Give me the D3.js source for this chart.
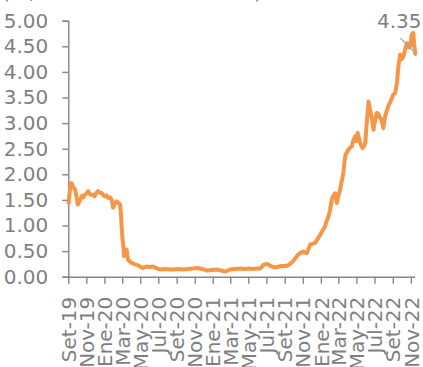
<!DOCTYPE html>
<html>
<head>
<meta charset="utf-8">
<script src="https://cdn.jsdelivr.net/npm/d3@7"></script>
<style>
  html, body { margin: 0; padding: 0; background: #fff; }
  svg { display: block; font-family: "DejaVu Sans", Verdana, sans-serif; }
</style>
</head>
<body>
<svg id="chart" width="423" height="367"></svg>
<script>
// Yield series (%), observation dates and values
const dates = [
  "2019-09-02","2019-09-05","2019-09-08","2019-09-12","2019-09-17","2019-09-24","2019-09-29",
  "2019-10-03","2019-10-07","2019-10-11","2019-10-17","2019-10-22","2019-10-27","2019-11-02",
  "2019-11-07","2019-11-12","2019-11-17","2019-11-23","2019-11-29","2019-12-04","2019-12-10",
  "2019-12-17","2019-12-23","2019-12-27","2020-01-03","2020-01-08","2020-01-13","2020-01-20",
  "2020-01-26","2020-01-30","2020-02-06","2020-02-11","2020-02-16","2020-02-23","2020-02-26",
  "2020-02-28","2020-03-02","2020-03-05","2020-03-07","2020-03-11","2020-03-16","2020-03-21",
  "2020-03-26","2020-04-02","2020-04-10","2020-04-19","2020-04-24","2020-04-30","2020-05-10",
  "2020-05-17","2020-05-27","2020-06-03","2020-06-13","2020-06-23","2020-07-07","2020-07-24",
  "2020-08-10","2020-08-20","2020-09-06","2020-09-23","2020-10-09","2020-10-26","2020-11-12",
  "2020-11-26","2020-12-13","2020-12-30","2021-01-15","2021-01-29","2021-02-12","2021-02-28",
  "2021-03-17","2021-04-03","2021-04-20","2021-05-04","2021-05-17","2021-05-31","2021-06-10",
  "2021-06-17","2021-06-20","2021-07-02","2021-07-10","2021-07-19","2021-07-27","2021-08-05",
  "2021-08-13","2021-08-22","2021-09-02","2021-09-12","2021-09-19","2021-09-29","2021-10-08",
  "2021-10-16","2021-10-23","2021-11-02","2021-11-09","2021-11-15","2021-11-21","2021-11-26",
  "2021-12-02","2021-12-13","2021-12-19","2021-12-30","2022-01-07","2022-01-15","2022-01-20",
  "2022-01-27","2022-02-01","2022-02-07","2022-02-11","2022-02-18","2022-02-24","2022-02-28",
  "2022-03-07","2022-03-12","2022-03-18","2022-03-24","2022-03-29","2022-04-04","2022-04-10",
  "2022-04-16","2022-04-20","2022-04-27","2022-04-30","2022-05-05","2022-05-10","2022-05-14",
  "2022-05-22","2022-05-27","2022-05-31","2022-06-05","2022-06-11","2022-06-16","2022-06-22",
  "2022-06-28","2022-07-03","2022-07-09","2022-07-14","2022-07-20","2022-07-26","2022-07-31",
  "2022-08-06","2022-08-12","2022-08-18","2022-08-23","2022-08-29","2022-09-02","2022-09-09",
  "2022-09-15","2022-09-20","2022-09-26","2022-10-01","2022-10-07","2022-10-13","2022-10-19",
  "2022-10-25","2022-10-30","2022-11-04","2022-11-09","2022-11-12","2022-11-16"
];
const yields = [
  1.44,1.62,1.78,1.83,1.76,1.70,1.55,
  1.41,1.45,1.50,1.58,1.55,1.60,1.63,
  1.67,1.62,1.60,1.60,1.57,1.63,1.67,
  1.64,1.63,1.60,1.57,1.59,1.54,1.55,
  1.50,1.35,1.44,1.47,1.45,1.41,1.20,
  0.98,0.75,0.59,0.40,0.45,0.53,0.33,
  0.30,0.27,0.25,0.23,0.22,0.20,0.17,
  0.19,0.20,0.19,0.20,0.17,0.14,0.15,
  0.14,0.14,0.15,0.14,0.15,0.16,0.17,
  0.15,0.12,0.13,0.14,0.12,0.10,0.14,
  0.15,0.16,0.15,0.16,0.15,0.16,0.16,
  0.20,0.23,0.25,0.23,0.20,0.19,0.18,
  0.20,0.21,0.21,0.22,0.25,0.30,0.37,
  0.43,0.46,0.49,0.47,0.46,0.55,0.63,
  0.64,0.66,0.72,0.82,0.90,0.98,1.08,
  1.18,1.30,1.50,1.57,1.63,1.44,1.55,
  1.70,1.85,2.03,2.35,2.42,2.48,2.52,
  2.55,2.65,2.74,2.65,2.81,2.70,2.61,
  2.51,2.55,2.61,3.00,3.42,3.26,3.10,
  2.87,3.05,3.20,3.18,3.10,3.05,2.90,
  3.13,3.25,3.35,3.40,3.49,3.55,3.59,
  3.78,4.11,4.34,4.25,4.30,4.45,4.56,
  4.48,4.50,4.73,4.76,4.55,4.35
];
const yTicks = [0, 0.5, 1, 1.5, 2, 2.5, 3, 3.5, 4, 4.5, 5];
const xTickDates = [
  "2019-09-01","2019-11-01","2020-01-01","2020-03-01","2020-05-01","2020-07-01","2020-09-01",
  "2020-11-01","2021-01-01","2021-03-01","2021-05-01","2021-07-01","2021-09-01","2021-11-01",
  "2022-01-01","2022-03-01","2022-05-01","2022-07-01","2022-09-01","2022-11-01"
];
const xTickLabels = [
  "Set-19","Nov-19","Ene-20","Mar-20","May-20","Jul-20","Set-20","Nov-20","Ene-21","Mar-21",
  "May-21","Jul-21","Set-21","Nov-21","Ene-22","Mar-22","May-22","Jul-22","Set-22","Nov-22"
];
const titleText = "(%, rendimiento a 2 años)";

const parse = d3.utcParse("%Y-%m-%d");
const data = dates.map((d, i) => ({ date: parse(d), value: yields[i] }));
const tickDates = xTickDates.map(parse);

const svg = d3.select("#chart");
const axisColor = "#868686";
const textColor = "#7f7f7f";

const x = d3.scaleUtc()
  .domain([parse("2019-09-01"), parse("2022-11-14")])
  .range([68.3, 414.7]);
const y = d3.scaleLinear().domain([0, 5]).range([276.7, 20.7]);

// Title (runs above the plot area)
svg.append("text")
  .attr("x", 2).attr("y", -1)
  .attr("font-size", 20).attr("fill", textColor)
  .text(titleText);

// Y axis
const yAxis = svg.append("g")
  .attr("transform", `translate(${x.range()[0]},0)`)
  .call(d3.axisLeft(y).tickValues(yTicks).tickFormat(d3.format(".2f")).tickSize(6).tickPadding(14));
yAxis.select(".domain").attr("stroke", axisColor).attr("stroke-width", 1.4);
yAxis.selectAll(".tick line").attr("stroke", axisColor).attr("stroke-width", 1.4);
yAxis.selectAll(".tick text")
  .attr("fill", textColor).attr("font-size", 20)
  .attr("font-family", "DejaVu Sans, Verdana, sans-serif");

// X axis
const xAxis = svg.append("g")
  .attr("transform", `translate(0,${y(0)})`)
  .call(d3.axisBottom(x).tickValues(tickDates).tickSize(7).tickSizeOuter(0)
    .tickFormat((d, i) => xTickLabels[i]));
xAxis.select(".domain").attr("stroke", axisColor).attr("stroke-width", 1.4);
xAxis.selectAll(".tick line").attr("stroke", axisColor).attr("stroke-width", 1.4);
xAxis.selectAll(".tick text")
  .attr("fill", textColor).attr("font-size", 20)
  .attr("font-family", "DejaVu Sans, Verdana, sans-serif")
  .attr("text-anchor", "end")
  .attr("x", 0).attr("y", 0)
  .attr("dy", "0.36em")
  .attr("transform", "translate(0,20) rotate(-90)");

// Series line
const line = d3.line()
  .x(d => x(d.date))
  .y(d => y(d.value));
svg.append("path")
  .datum(data)
  .attr("fill", "none")
  .attr("stroke", "#F79646")
  .attr("stroke-width", 4)
  .attr("stroke-linejoin", "round")
  .attr("stroke-linecap", "round")
  .attr("d", line);

// Last value label with leader line
const last = data[data.length - 1];
const lx = x(last.date), ly = y(last.value);
svg.append("line")
  .attr("x1", lx - 15).attr("y1", ly - 16)
  .attr("x2", lx).attr("y2", ly - 1)
  .attr("stroke", "#a6a6a6").attr("stroke-width", 1.2);
svg.append("text")
  .attr("x", lx - 16).attr("y", ly - 26)
  .attr("text-anchor", "middle")
  .attr("font-size", 20).attr("fill", textColor)
  .text(d3.format(".2f")(last.value));
</script>
</body>
</html>
